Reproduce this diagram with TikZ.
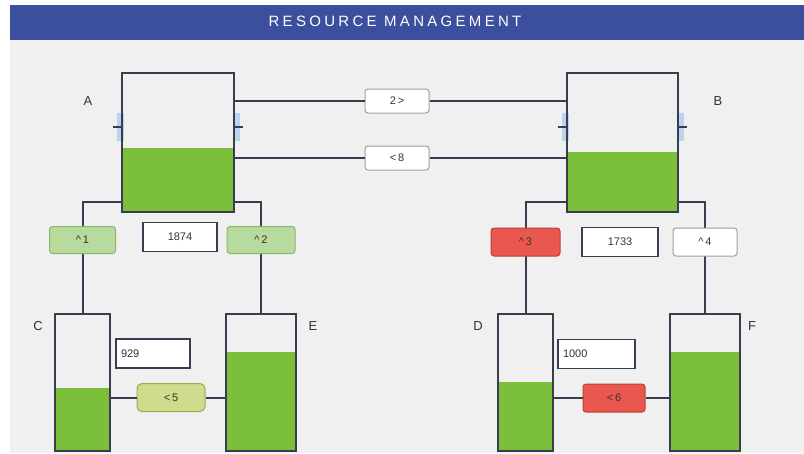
\documentclass[tikz,border=0pt]{standalone}
\usepackage{fontspec}
\setmainfont{Liberation Sans}
\newfontfamily\titlefont[LetterSpace=22]{Liberation Sans}
\usetikzlibrary{positioning}

\definecolor{panelgray}{HTML}{F0F0F0}
\definecolor{titleblue}{HTML}{3C4E9E}
\definecolor{tankline}{HTML}{3A3D50}
\definecolor{levelgreen}{HTML}{7CBF3A}
\definecolor{palegreen}{HTML}{B8DA9C}
\definecolor{palegreenline}{HTML}{86B86A}
\definecolor{alertred}{HTML}{E9574E}
\definecolor{alertline}{HTML}{B8423A}
\definecolor{olivefill}{HTML}{CFDC8E}
\definecolor{oliveline}{HTML}{9EA857}
\definecolor{tickblue}{HTML}{BCD3F0}

\begin{document}
\begin{tikzpicture}[
  x=1pt, y=-1pt,
  tank/.style={draw=tankline, line width=2pt, inner sep=0pt},
  level/.style={fill=levelgreen},
  pipe/.style={draw=tankline, line width=2pt},
  tick/.style={draw=tankline, line width=2.2pt},
  halo/.style={fill=tickblue, minimum width=7pt, minimum height=28pt, inner sep=0pt},
  gate/.style={draw=gray!75, fill=white, rounded corners=3pt, line width=1pt, minimum width=64pt, minimum height=24pt, inner sep=0pt, font=\fontsize{11}{11}\selectfont, text=black!80},
  count/.style={draw=tankline, fill=white, line width=1.3pt, minimum height=29pt, inner sep=4pt, font=\fontsize{11}{11}\selectfont, text=black!80},
  tag/.style={font=\fontsize{13}{13}\selectfont, text=black!80}
]
  % Frame and title bar
  \useasboundingbox (0,0) rectangle (804,453);
  \fill[white] (0,0) rectangle (804,453);
  \fill[panelgray] (10,40) rectangle (804,453);
  \fill[titleblue] (10,5) rectangle (804,40);
  \node[text=white, font=\titlefont\fontsize{15}{15}\selectfont] (title) at (395,21) {RESOURCE MANAGEMENT};

  % Fill levels
  \fill[level] (122,148) rectangle (234,212);
  \fill[level] (567,152) rectangle (678,212);
  \fill[level] (55,388) rectangle (110,451);
  \fill[level] (226,352) rectangle (296,451);
  \fill[level] (498,382) rectangle (553,451);
  \fill[level] (670,352) rectangle (740,451);

  % Side mark halos
  \node[halo] (haloAw) at (120,127) {};
  \node[halo] (haloAe) at (236,127) {};
  \node[halo] (haloBw) at (565,127) {};
  \node[halo] (haloBe) at (680,127) {};

  % Upper tanks
  \node[tank, minimum width=112pt, minimum height=139pt] (tankA) at (178,142.5) {};
  \node[tank, minimum width=111pt, minimum height=139pt] (tankB) at (622.5,142.5) {};
  \node[tag] (labA) at (88,101) {A};
  \node[tag] (labB) at (718,101) {B};

  % Lower tanks
  \node[tank, minimum width=55pt, minimum height=137pt] (tankC) at (82.5,382.5) {};
  \node[tank, minimum width=70pt, minimum height=137pt] (tankE) at (261,382.5) {};
  \node[tank, minimum width=55pt, minimum height=137pt] (tankD) at (525.5,382.5) {};
  \node[tank, minimum width=70pt, minimum height=137pt] (tankF) at (705,382.5) {};
  \node[tag] (labC) at (38,326) {C};
  \node[tag] (labE) at (313,326) {E};
  \node[tag] (labD) at (478,326) {D};
  \node[tag] (labF) at (752,326) {F};

  % Side marks
  \draw[tick] ([yshift=15.5pt]tankA.west) -- ++(-8,0);
  \draw[tick] ([yshift=15.5pt]tankA.east) -- ++(8,0);
  \draw[tick] ([yshift=15.5pt]tankB.west) -- ++(-8,0);
  \draw[tick] ([yshift=15.5pt]tankB.east) -- ++(8,0);

  % Gates between A and B
  \node[gate] (gAB) at (397,101) {2\,>};
  \node[gate] (gBA) at (397,158) {<\,8};
  \draw[pipe] (tankA.east |- gAB) -- (gAB.west);
  \draw[pipe] (gAB.east) -- (tankB.west |- gAB);
  \draw[pipe] (tankA.east |- gBA) -- (gBA.west);
  \draw[pipe] (gBA.east) -- (tankB.west |- gBA);

  % Pipes down to lower tanks
  \draw[pipe] ([yshift=11pt]tankA.south west) -| (tankC.north);
  \draw[pipe] ([yshift=11pt]tankA.south east) -| (tankE.north);
  \draw[pipe] ([yshift=11pt]tankB.south west) -| (tankD.north);
  \draw[pipe] ([yshift=11pt]tankB.south east) -| (tankF.north);

  % Gates on the down pipes
  \node[gate, fill=palegreen, draw=palegreenline, minimum width=66pt, minimum height=27pt] (gAC) at (tankC.north |- 0,240) {\textasciicircum\,1};
  \node[gate, fill=palegreen, draw=palegreenline, minimum width=68pt, minimum height=27pt] (gAE) at (tankE.north |- 0,240) {\textasciicircum\,2};
  \node[gate, fill=alertred, draw=alertline, minimum width=69pt, minimum height=28pt] (gBD) at (tankD.north |- 0,242) {\textasciicircum\,3};
  \node[gate, minimum width=64pt, minimum height=28pt] (gBF) at (tankF.north |- 0,242) {\textasciicircum\,4};

  % Counters
  \node[count, minimum width=74pt] (cntA) at (180,237) {1874};
  \node[count, minimum width=76pt] (cntB) at (620,242) {1733};
  \node[count, minimum width=74pt, text width=64pt, align=left] (cntC) at (153,353.5) {929};
  \node[count, minimum width=77pt, text width=67pt, align=left] (cntD) at (596.5,354) {1000};

  % Gates between lower tanks
  \node[gate, fill=olivefill, draw=oliveline, minimum width=68pt, minimum height=28pt, rounded corners=5pt] (gCE) at (171,397.5) {<\,5};
  \node[gate, fill=alertred, draw=alertline, minimum width=62pt, minimum height=28pt] (gDF) at (614,398) {<\,6};
  \draw[pipe] (tankC.east |- gCE) -- (gCE.west);
  \draw[pipe] (gCE.east) -- (tankE.west |- gCE);
  \draw[pipe] (tankD.east |- gDF) -- (gDF.west);
  \draw[pipe] (gDF.east) -- (tankF.west |- gDF);
\end{tikzpicture}
\end{document}
